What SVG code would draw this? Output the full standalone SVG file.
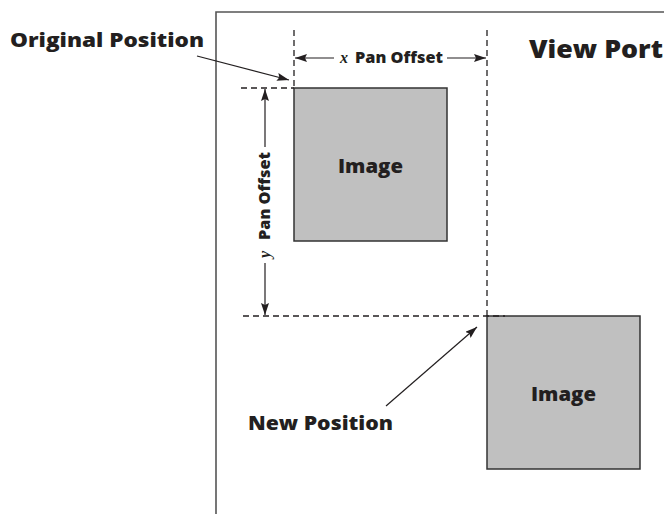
<svg xmlns="http://www.w3.org/2000/svg" width="664" height="514" viewBox="0 0 664 514">
  <style>
    .lbl { font-family: "Open Sans", "Noto Sans", sans-serif; font-weight: 800; fill: #231f20; }
    .var { font-family: "Liberation Serif", serif; font-style: italic; font-weight: bold; fill: #231f20; }
    .dash { stroke: #231f20; stroke-width: 1.3; stroke-dasharray: 6 4; fill: none; }
    .dim { stroke: #231f20; stroke-width: 1.2; fill: none; }
    .img { fill: #c0c0c0; stroke: #333; stroke-width: 1.5; }
  </style>
  <defs>
    <marker id="ah" viewBox="0 0 12 8" refX="12" refY="4" markerWidth="12" markerHeight="8" markerUnits="userSpaceOnUse" orient="auto-start-reverse">
      <path d="M0,0 L12,4 L0,8 L2,4 Z" fill="#231f20"/>
    </marker>
  </defs>
  <rect width="664" height="514" fill="#fff"/>

  <!-- viewport frame -->
  <g id="viewport">
    <path d="M216,514 V12 H664" fill="none" stroke="#555" stroke-width="1.6"/>
    <text class="lbl" x="529" y="58" font-size="25" textLength="134" lengthAdjust="spacingAndGlyphs">View Port</text>
  </g>

  <!-- image at original position -->
  <g id="image-original">
    <rect class="img" x="294" y="88" width="153" height="153"/>
    <text class="lbl" x="338" y="173" font-size="19" textLength="65" lengthAdjust="spacingAndGlyphs">Image</text>
  </g>

  <!-- image at new position -->
  <g id="image-new">
    <rect class="img" x="487" y="316" width="153" height="153"/>
    <text class="lbl" x="531" y="401" font-size="19" textLength="65" lengthAdjust="spacingAndGlyphs">Image</text>
  </g>

  <g id="label-original">
    <text class="lbl" x="10" y="47" font-size="20" textLength="194" lengthAdjust="spacingAndGlyphs">Original Position</text>
  </g>
  <g id="label-new">
    <text class="lbl" x="248" y="430" font-size="20" textLength="145" lengthAdjust="spacingAndGlyphs">New Position</text>
  </g>

  <g id="connectors">
    <!-- guide lines -->
    <line class="dash" x1="294" y1="30" x2="294" y2="88"/>
    <line class="dash" x1="487" y1="30" x2="487" y2="316"/>
    <line class="dash" x1="241" y1="88" x2="294" y2="88"/>
    <line class="dash" x1="243" y1="316" x2="505" y2="316"/>

    <!-- x pan offset -->
    <line class="dim" x1="334" y1="58" x2="295" y2="58" marker-end="url(#ah)"/>
    <line class="dim" x1="447" y1="58" x2="486" y2="58" marker-end="url(#ah)"/>
    <text class="var" x="340" y="63" font-size="16">x</text>
    <text class="lbl" x="355" y="63" font-size="15" textLength="88" lengthAdjust="spacingAndGlyphs">Pan Offset</text>

    <!-- y pan offset -->
    <line class="dim" x1="265" y1="147" x2="265" y2="89" marker-end="url(#ah)"/>
    <line class="dim" x1="265" y1="263" x2="265" y2="315" marker-end="url(#ah)"/>
    <text class="var" transform="translate(270,258) rotate(-90)" font-size="16">y</text>
    <text class="lbl" transform="translate(270,240) rotate(-90)" font-size="15" textLength="88" lengthAdjust="spacingAndGlyphs">Pan Offset</text>

    <!-- callouts -->
    <line class="dim" x1="197" y1="56" x2="289" y2="80" marker-end="url(#ah)"/>
    <line class="dim" x1="386" y1="406" x2="477" y2="327" marker-end="url(#ah)"/>
  </g>
</svg>
